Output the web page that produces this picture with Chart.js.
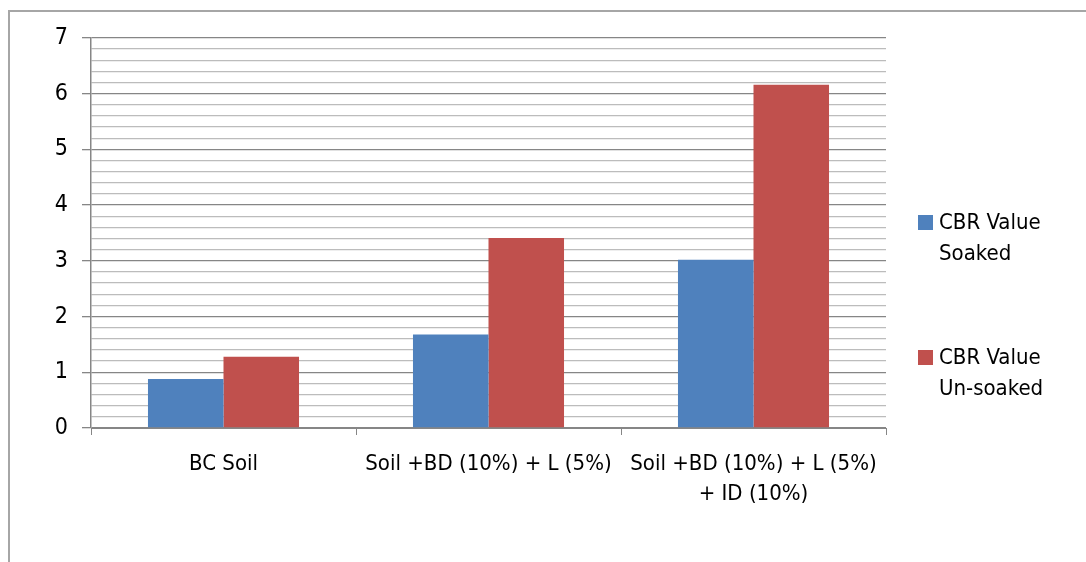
<!DOCTYPE html>
<html>
<head>
<meta charset="utf-8">
<script src="https://cdn.jsdelivr.net/npm/chart.js@4/dist/chart.umd.min.js"></script>
<style>
    html, body { margin: 0; padding: 0; background: #fff; overflow: hidden; }
    #wrap { position: relative; width: 1086px; height: 562px; }
    #frame { position: absolute; left: 8px; top: 10px; width: 1200px; height: 700px;
             border-left: 2px solid #a6a6a6; border-top: 2px solid #a6a6a6; }
    #legend { position: absolute; left: 918px; top: 206px; font-family: 'DejaVu Sans Condensed', 'Liberation Sans', sans-serif;
              font-size: 22px; line-height: 31px; color: #000; }
    .item { position: absolute; left: 0; white-space: nowrap; }
    .swatch { position: absolute; left: 0; top: 9px; width: 15px; height: 15px; }
    .txt { position: absolute; left: 21px; top: 0; }
</style>
</head>
<body>
<div id="wrap">
    <div id="frame"></div>
    <canvas id="cbrChart" width="1086" height="562"></canvas>
    <div id="legend"></div>
</div>
<script>
// chart data
const categories = ['BC Soil', 'Soil +BD (10%) + L (5%)', ['Soil +BD (10%) + L (5%)', '+ ID (10%)']];
const soaked = [0.88, 1.68, 3.02];
const unsoaked = [1.28, 3.41, 6.16];
const seriesNames = [['CBR Value', 'Soaked'], ['CBR Value', 'Un-soaked']];
const seriesColors = ['#4F81BD', '#C0504D'];

const FONT = "'DejaVu Sans Condensed', 'Liberation Sans', sans-serif";
const isMajor = v => Math.abs(v - Math.round(v)) < 1e-6;

// legend drawn as html so the labels can wrap like the original
function renderLegend() {
    const legend = document.getElementById('legend');
    legend.innerHTML = seriesNames.map((name, i) => `
        <div class="item" style="top: ${i * 135}px;">
            <div class="swatch" style="background: ${seriesColors[i]};"></div>
            <div class="txt">${name.join('<br>')}</div>
        </div>
    `).join('');
}

renderLegend();

const ctx = document.getElementById('cbrChart').getContext('2d');
new Chart(ctx, {
    type: 'bar',
    data: {
        labels: categories,
        datasets: [
            { label: seriesNames[0].join(' '), data: soaked, backgroundColor: seriesColors[0] },
            { label: seriesNames[1].join(' '), data: unsoaked, backgroundColor: seriesColors[1] }
        ]
    },
    options: {
        responsive: false,
        animation: false,
        layout: { padding: { left: 0, right: 200, top: 38, bottom: 0 } },
        datasets: { bar: { categoryPercentage: 0.57, barPercentage: 1.0 } },
        plugins: {
            legend: { display: false },
            tooltip: { enabled: false }
        },
        scales: {
            x: {
                grid: { drawOnChartArea: false, offset: true, tickLength: 7, color: '#868686', lineWidth: 1 },
                border: { color: '#868686', width: 1 },
                ticks: {
                    color: '#000',
                    font: { family: FONT, size: 22, lineHeight: 1.36 },
                    maxRotation: 0, autoSkip: false, padding: 14
                },
                afterFit: scale => { scale.height = 562 - 428; }
            },
            y: {
                min: 0,
                max: 7,
                ticks: {
                    stepSize: 0.2,
                    autoSkip: false,
                    color: '#000',
                    font: { family: FONT, size: 23 },
                    padding: 14,
                    callback: v => isMajor(v) ? Math.round(v) : ''
                },
                grid: {
                    color: c => isMajor(c.tick.value) ? '#868686' : '#bcbcbc',
                    tickColor: c => isMajor(c.tick.value) ? '#868686' : 'rgba(0,0,0,0)',
                    lineWidth: 1.3,
                    tickLength: 9
                },
                border: { color: '#868686', width: 1.5 },
                afterFit: scale => { scale.width = 91; }
            }
        }
    }
});
</script>
</body>
</html>
